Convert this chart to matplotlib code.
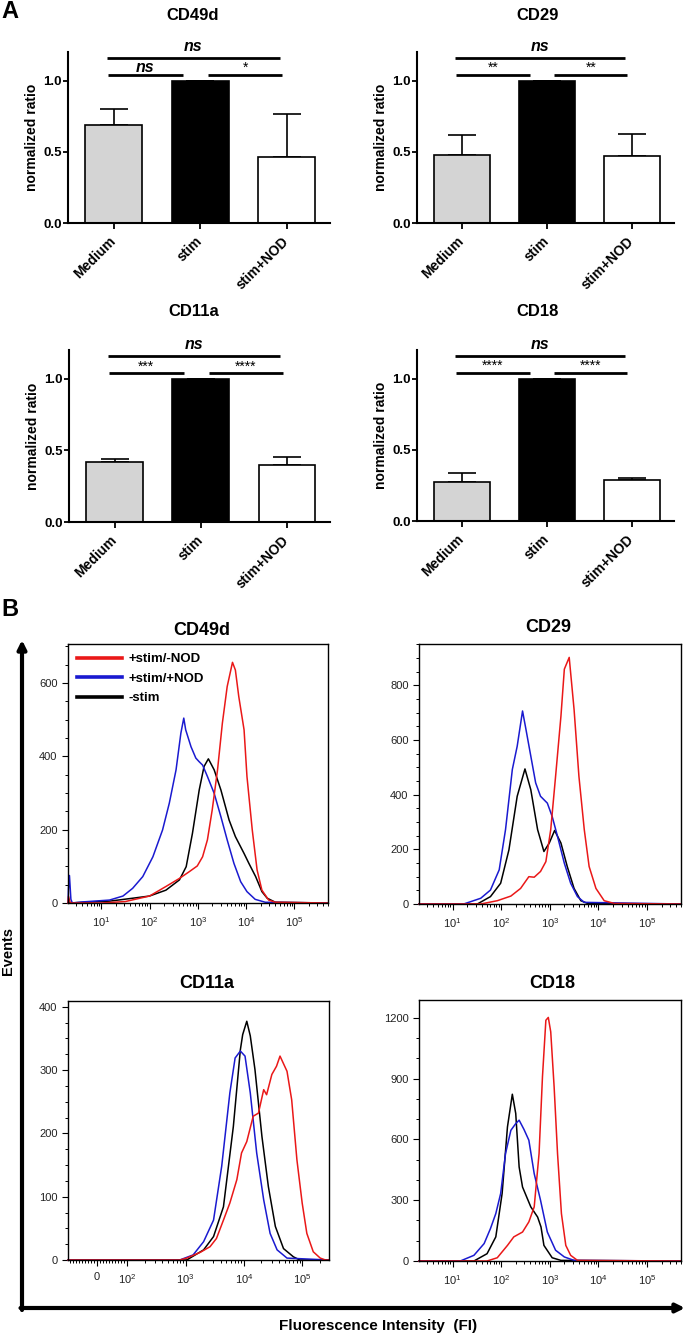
import numpy as np
import matplotlib.pyplot as plt
from matplotlib.lines import Line2D
from matplotlib.ticker import (LogLocator, LogFormatterMathtext, NullFormatter,
                               MultipleLocator, FixedLocator)

plt.rcParams['font.family'] = ['Liberation Sans', 'DejaVu Sans']
plt.rcParams['mathtext.default'] = 'regular'

# ---------------- panel A: normalized ratio (mean, upper error) ----------------
groups = ['Medium', 'stim', 'stim+NOD']
bar_colors = ['#d4d4d4', 'black', 'white']

cd49d_mean = [0.685, 1.0, 0.464]
cd49d_err = [0.115, 0.0, 0.298]
cd29_mean = [0.476, 1.0, 0.469]
cd29_err = [0.142, 0.0, 0.153]
cd11a_mean = [0.42, 1.0, 0.397]
cd11a_err = [0.019, 0.0, 0.054]
cd18_mean = [0.272, 1.0, 0.286]
cd18_err = [0.064, 0.0, 0.017]

# significance: Medium vs stim, stim vs stim+NOD, Medium vs stim+NOD
cd49d_sig = ['ns', '*', 'ns']
cd29_sig = ['**', '**', 'ns']
cd11a_sig = ['***', '****', 'ns']
cd18_sig = ['****', '****', 'ns']

# ---------------- panel B: histograms (log10 FI, events) ----------------
cd49d_red_log = [0.32, 0.35, 0.38, 1.0, 1.5, 2.0, 2.34, 2.62, 2.82, 2.99, 3.10, 3.20, 3.30, 3.41,
                 3.51, 3.61, 3.72, 3.78, 3.85, 3.96, 4.02, 4.13, 4.23, 4.33, 4.47, 4.61]
cd49d_red_n = [18, 3, 0, 0, 4, 19, 45, 67, 85, 101, 126, 172, 254, 363,
               490, 590, 656, 635, 563, 472, 345, 199, 90, 35, 8, 2]
cd49d_blue_log = [0.32, 0.34, 0.37, 0.40, 0.62, 1.17, 1.45, 1.65, 1.86, 2.07, 2.27, 2.41, 2.55,
                  2.65, 2.71, 2.75, 2.86, 2.96, 3.03, 3.10, 3.20, 3.34, 3.48, 3.61, 3.75, 3.89,
                  4.02, 4.19, 4.40]
cd49d_blue_n = [40, 75, 10, 0, 3, 8, 19, 40, 72, 126, 199, 272, 363,
                463, 504, 472, 426, 395, 385, 376, 345, 299, 235, 172, 108, 58,
                31, 10, 2]
cd49d_black_log = [1.17, 1.65, 2.0, 2.34, 2.62, 2.76, 2.89, 3.03, 3.13, 3.22, 3.34, 3.48, 3.65,
                   3.78, 3.96, 4.06, 4.20, 4.33, 4.44, 4.61]
cd49d_black_n = [5, 13, 19, 35, 63, 99, 190, 308, 372, 393, 363, 308, 226,
                 181, 135, 108, 72, 31, 13, 2]

cd29_red_log = [1.58, 1.92, 2.20, 2.40, 2.57, 2.68, 2.81, 2.92, 3.02, 3.12, 3.23, 3.30, 3.40,
                3.50, 3.60, 3.71, 3.81, 3.95, 4.12, 4.33]
cd29_red_n = [0, 12, 29, 57, 100, 98, 119, 155, 272, 467, 687, 859, 902,
              712, 467, 272, 137, 57, 12, 2]
cd29_blue_log = [1.23, 1.58, 1.78, 1.96, 2.09, 2.23, 2.33, 2.44, 2.51, 2.61, 2.71, 2.81, 2.95,
                 3.05, 3.16, 3.30, 3.43, 3.57, 3.71]
cd29_blue_n = [0, 21, 51, 125, 272, 492, 577, 706, 639, 541, 443, 394, 369,
               320, 247, 149, 76, 27, 6]
cd29_black_log = [1.51, 1.78, 1.99, 2.16, 2.33, 2.49, 2.61, 2.75, 2.88, 2.99, 3.10, 3.23, 3.36,
                  3.50, 3.64, 3.78]
cd29_black_n = [0, 27, 76, 198, 394, 494, 418, 272, 192, 223, 269, 223, 137,
                57, 12, 2]

cd11a_red_log = [2.9, 3.02, 3.25, 3.42, 3.53, 3.65, 3.76, 3.88, 3.96, 4.05, 4.16, 4.25, 4.34,
                 4.39, 4.48, 4.56, 4.62, 4.74, 4.82, 4.91, 5.0, 5.08, 5.19, 5.31, 5.4]
cd11a_red_n = [0, 3, 12, 21, 34, 63, 90, 127, 169, 187, 227, 232, 269,
               261, 293, 306, 322, 298, 253, 158, 90, 42, 13, 3, 0]
cd11a_blue_log = [2.9, 3.13, 3.31, 3.48, 3.62, 3.76, 3.85, 3.94, 4.02, 4.11, 4.22, 4.34, 4.45,
                  4.57, 4.74]
cd11a_blue_n = [0, 8, 29, 63, 148, 264, 319, 330, 322, 264, 169, 95, 42, 16, 3]
cd11a_black_log = [3.02, 3.31, 3.48, 3.65, 3.82, 3.94, 3.98, 4.05, 4.11, 4.19, 4.31, 4.42, 4.54,
                   4.68, 4.85, 4.96]
cd11a_black_n = [0, 16, 37, 84, 211, 332, 356, 377, 354, 301, 195, 116, 53, 18, 5, 0]

cd18_red_log = [1.71, 1.92, 2.13, 2.26, 2.44, 2.57, 2.68, 2.78, 2.85, 2.92, 2.97, 3.02, 3.09,
                3.16, 3.24, 3.33, 3.43, 3.57]
cd18_red_n = [0, 16, 77, 119, 143, 193, 267, 530, 909, 1188, 1202, 1131, 859,
              530, 234, 77, 28, 3]
cd18_blue_log = [1.16, 1.44, 1.65, 1.78, 1.89, 1.99, 2.09, 2.20, 2.30, 2.37, 2.47, 2.57, 2.68,
                 2.81, 2.95, 3.12, 3.30, 3.50]
cd18_blue_n = [0, 28, 86, 160, 234, 333, 530, 645, 678, 695, 649, 596, 431,
               300, 143, 53, 20, 3]
cd18_black_log = [1.44, 1.71, 1.89, 2.02, 2.13, 2.23, 2.30, 2.37, 2.44, 2.61, 2.75, 2.82, 2.88,
                  3.05, 3.23]
cd18_black_n = [0, 36, 119, 333, 662, 823, 728, 464, 365, 267, 217, 168, 77,
                16, 3]

legend_labels = ['+stim/-NOD', '+stim/+NOD', '-stim']
RED, BLUE, BLACK = '#ea1818', '#1a1ad0', 'black'

W, H = 685, 1336
fig = plt.figure(figsize=(W / 100, H / 100), dpi=100)


def rect(left, top, right, bottom):
    # pixel box -> figure fraction
    return [left / W, 1 - bottom / H, (right - left) / W, (bottom - top) / H]


def fig_text(x, y, s, **kw):
    fig.text(x / W, 1 - y / H, s, ha='center', va='center', **kw)


# ---------------- bar charts ----------------
# (line x0, x1, y, text offset) for the three comparison brackets
sig_lines = [(-0.07, 0.80, 1.04, 0.018), (1.09, 1.95, 1.04, 0.018), (-0.08, 1.92, 1.16, 0.045)]

bar_panels = [
    ('CD49d', cd49d_mean, cd49d_err, cd49d_sig, (68, 52, 330, 223), (193, 15)),
    ('CD29', cd29_mean, cd29_err, cd29_sig, (417, 52, 674, 223), (538, 15)),
    ('CD11a', cd11a_mean, cd11a_err, cd11a_sig, (69, 350, 330, 522), (194, 312)),
    ('CD18', cd18_mean, cd18_err, cd18_sig, (417, 350, 674, 521), (538, 312)),
]

for title, mean, err, sig, box, tpos in bar_panels:
    ax = fig.add_axes(rect(*box))
    x = np.arange(len(groups))
    ax.bar(x, mean, width=0.66, color=bar_colors, edgecolor='black', linewidth=1.2, zorder=2)
    ax.errorbar(x, mean, yerr=[np.zeros(len(err)), err], fmt='none', ecolor='black',
                elinewidth=1.2, capsize=10, capthick=1.2, zorder=1)
    for (x0, x1, y, off), label in zip(sig_lines, sig):
        ax.plot([x0, x1], [y, y], color='black', lw=2, clip_on=False, solid_capstyle='butt')
        if label == 'ns':
            ax.text((x0 + x1) / 2, y + off, 'ns', ha='center', va='baseline',
                    fontsize=11.5, fontweight='bold', style='italic')
        else:
            ax.text((x0 + x1) / 2, y + off, label, ha='center', va='baseline', fontsize=10)
    ax.set_xlim(-0.53, 2.5)
    ax.set_ylim(0, 1.2)
    ax.set_yticks([0, 0.5, 1.0])
    ax.set_yticklabels(['0.0', '0.5', '1.0'], fontweight='bold', fontsize=9.5)
    ax.set_xticks(x)
    ax.set_xticklabels(groups, rotation=45, ha='right', va='center', rotation_mode='anchor',
                       fontweight='bold', fontsize=10)
    ax.tick_params(axis='y', length=3.5, width=1.3, pad=1)
    ax.tick_params(axis='x', length=4.5, width=1.3, pad=7)
    for s in ['top', 'right']:
        ax.spines[s].set_visible(False)
    for s in ['left', 'bottom']:
        ax.spines[s].set_linewidth(1.5)
    ax.set_ylabel('normalized ratio', fontweight='bold', fontsize=10, labelpad=3)
    fig_text(tpos[0], tpos[1], title, fontsize=12, fontweight='bold')

# ---------------- histograms ----------------
hist_panels = [
    ('CD49d', (68, 644, 328, 903), (202, 630), 706, 200, 50, 'log',
     [(cd49d_black_log, cd49d_black_n, BLACK), (cd49d_blue_log, cd49d_blue_n, BLUE),
      (cd49d_red_log, cd49d_red_n, RED)]),
    ('CD29', (419, 644, 681, 904), (548, 628), 951, 200, 50, 'log',
     [(cd29_black_log, cd29_black_n, BLACK), (cd29_blue_log, cd29_blue_n, BLUE),
      (cd29_red_log, cd29_red_n, RED)]),
    ('CD11a', (68, 1001, 329, 1260), (207, 983), 409, 100, 25, 'symlog',
     [(cd11a_black_log, cd11a_black_n, BLACK), (cd11a_blue_log, cd11a_blue_n, BLUE),
      (cd11a_red_log, cd11a_red_n, RED)]),
    ('CD18', (419, 1000, 681, 1261), (552, 983), 1288, 300, 100, 'log',
     [(cd18_black_log, cd18_black_n, BLACK), (cd18_blue_log, cd18_blue_n, BLUE),
      (cd18_red_log, cd18_red_n, RED)]),
]

for title, box, tpos, ytop, ystep, yminor, scale, curves in hist_panels:
    ax = fig.add_axes(rect(*box))
    if scale == 'log':
        ax.set_xscale('log')
        xmin, xmax = 10 ** 0.31, 10 ** 5.7
        ax.xaxis.set_major_locator(LogLocator(base=10, numticks=12))
        ax.xaxis.set_major_formatter(LogFormatterMathtext())
        ax.xaxis.set_minor_locator(LogLocator(base=10, subs=np.arange(2, 10), numticks=30))
        ax.xaxis.set_minor_formatter(NullFormatter())
    else:
        # biexponential-like display: linear around zero, log above 100
        ax.set_xscale('symlog', linthresh=100, linscale=0.464)
        xmin, xmax = -97, 10 ** 5.46
        ax.set_xticks([0, 1e2, 1e3, 1e4, 1e5])
        ax.set_xticklabels(['0', '$10^2$', '$10^3$', '$10^4$', '$10^5$'])
        minor = [k * 10 ** n for n in (2, 3, 4) for k in range(2, 10)] + [2e5]
        minor += [s * k for k in range(10, 100, 10) for s in (-1, 1)]
        ax.xaxis.set_minor_locator(FixedLocator(minor))
    for logs, counts, color in curves:
        xs = np.concatenate([[xmin], 10 ** np.array(logs), [xmax]])
        ys = np.concatenate([[0], counts, [0]])
        ax.plot(xs, ys, color=color, lw=1.1, clip_on=False)
    ax.set_xlim(xmin, xmax)
    ax.set_ylim(0, ytop)
    ax.yaxis.set_major_locator(MultipleLocator(ystep))
    ax.yaxis.set_minor_locator(MultipleLocator(yminor))
    ax.tick_params(which='major', direction='out', length=4, width=0.8, labelsize=8,
                   labelcolor='#222222')
    ax.tick_params(axis='x', which='major', pad=5)
    ax.tick_params(which='minor', direction='out', length=2.2, width=0.7)
    for s in ax.spines.values():
        s.set_linewidth(1.0)
    fig_text(tpos[0], tpos[1], title, fontsize=13, fontweight='bold')
    if title == 'CD49d':
        handles = [Line2D([], [], color=c, lw=2.6) for c in (RED, BLUE, BLACK)]
        ax.legend(handles, legend_labels, loc='upper left', frameon=False,
                  prop={'weight': 'bold', 'size': 9.5}, handlelength=3.4, handletextpad=0.5,
                  labelspacing=0.55, borderpad=0.2, borderaxespad=0.5)

# ---------------- frame arrows and shared labels ----------------
ov = fig.add_axes([0, 0, 1, 1], zorder=-1)
ov.set_xlim(0, W)
ov.set_ylim(H, 0)
ov.axis('off')
arrow = dict(arrowstyle='-|>,head_length=0.5,head_width=0.25', lw=3, color='black',
             shrinkA=0, shrinkB=0)
ov.annotate('', xy=(22, 640), xytext=(22, 1310), arrowprops=arrow)
ov.annotate('', xy=(685, 1308), xytext=(20.5, 1308), arrowprops=arrow)

fig_text(8, 951, 'Events', rotation=90, fontsize=10.5, fontweight='bold')
fig_text(378, 1326, 'Fluorescence Intensity  (FI)', fontsize=11, fontweight='bold')
fig_text(10, 12, 'A', fontsize=17, fontweight='bold')
fig_text(10, 610, 'B', fontsize=17, fontweight='bold')

fig.savefig('out.png', dpi=100)
